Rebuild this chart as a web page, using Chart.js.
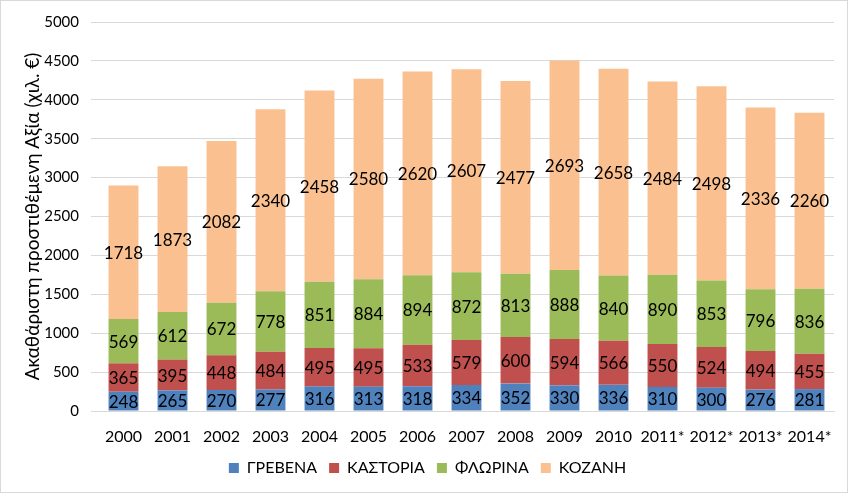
<!DOCTYPE html>
<html>
<head>
<meta charset="utf-8">
<script src="https://cdn.jsdelivr.net/npm/chart.js@4"></script>
<style>
  html, body { margin: 0; padding: 0; background: #fff; }
  #wrap { position: relative; width: 848px; height: 493px; box-sizing: border-box; border: 1px solid #d9d9d9; }
</style>
</head>
<body>
<div id="wrap"><canvas id="chart"></canvas></div>
<script>
const years = ['2000', '2001', '2002', '2003', '2004', '2005', '2006', '2007', '2008', '2009', '2010', '2011*', '2012*', '2013*', '2014*'];
const grevena = [248, 265, 270, 277, 316, 313, 318, 334, 352, 330, 336, 310, 300, 276, 281];
const kastoria = [365, 395, 448, 484, 495, 495, 533, 579, 600, 594, 566, 550, 524, 494, 455];
const florina = [569, 612, 672, 778, 851, 884, 894, 872, 813, 888, 840, 890, 853, 796, 836];
const kozani = [1718, 1873, 2082, 2340, 2458, 2580, 2620, 2607, 2477, 2693, 2658, 2484, 2498, 2336, 2260];

const FONT = 'Lato, "Open Sans", sans-serif';

// etiketes timwn sto kentro kathe tmimatos
const segmentLabels = {
  id: 'segmentLabels',
  afterDatasetsDraw(chart) {
    const ctx = chart.ctx;
    ctx.save();
    ctx.font = '17px ' + FONT;
    ctx.fillStyle = '#000';
    ctx.textAlign = 'center';
    ctx.textBaseline = 'middle';
    chart.data.datasets.forEach((ds, i) => {
      const meta = chart.getDatasetMeta(i);
      meta.data.forEach((bar, j) => {
        const y = (bar.y + bar.base) / 2;
        ctx.fillText(ds.data[j], bar.x, y + 1);
      });
    });
    ctx.restore();
  }
};

new Chart(document.getElementById('chart'), {
  type: 'bar',
  data: {
    labels: years,
    datasets: [
      { label: 'ΓΡΕΒΕΝΑ', data: grevena, backgroundColor: '#4F81BD' },
      { label: 'ΚΑΣΤΟΡΙΑ', data: kastoria, backgroundColor: '#C0504D' },
      { label: 'ΦΛΩΡΙΝΑ', data: florina, backgroundColor: '#9BBB59' },
      { label: 'ΚΟΖΑΝΗ', data: kozani, backgroundColor: '#FAC090' }
    ]
  },
  options: {
    responsive: true,
    maintainAspectRatio: false,
    animation: false,
    layout: { padding: { top: -3, right: 13, left: 20, bottom: 6 } },
    datasets: { bar: { barPercentage: 0.61, categoryPercentage: 1 } },
    plugins: {
      legend: {
        position: 'bottom',
        labels: {
          boxWidth: 10, boxHeight: 10, padding: 12,
          color: '#000',
          font: { family: FONT, size: 16 }
        }
      },
      tooltip: { enabled: false }
    },
    scales: {
      x: {
        stacked: true,
        grid: { display: false },
        border: { color: '#d9d9d9' },
        ticks: { color: '#000', font: { family: FONT, size: 16 }, maxRotation: 0, autoSkip: false, padding: 8 },
        afterFit(scale) { scale.height = 37; }
      },
      y: {
        stacked: true,
        min: 0, max: 5000,
        grid: { color: '#d9d9d9' },
        border: { display: false },
        ticks: {
          stepSize: 500, color: '#000', font: { family: FONT, size: 15 }, padding: 12,
          callback: (v) => String(v)
        },
        title: {
          display: true,
          text: 'Ακαθάριστη προστιθέμενη Αξία (χιλ. €)',
          color: '#000',
          font: { family: FONT, size: 19 },
          padding: 0
        },
        afterFit(scale) { scale.width = 78; }
      }
    }
  },
  plugins: [segmentLabels]
});
</script>
</body>
</html>
